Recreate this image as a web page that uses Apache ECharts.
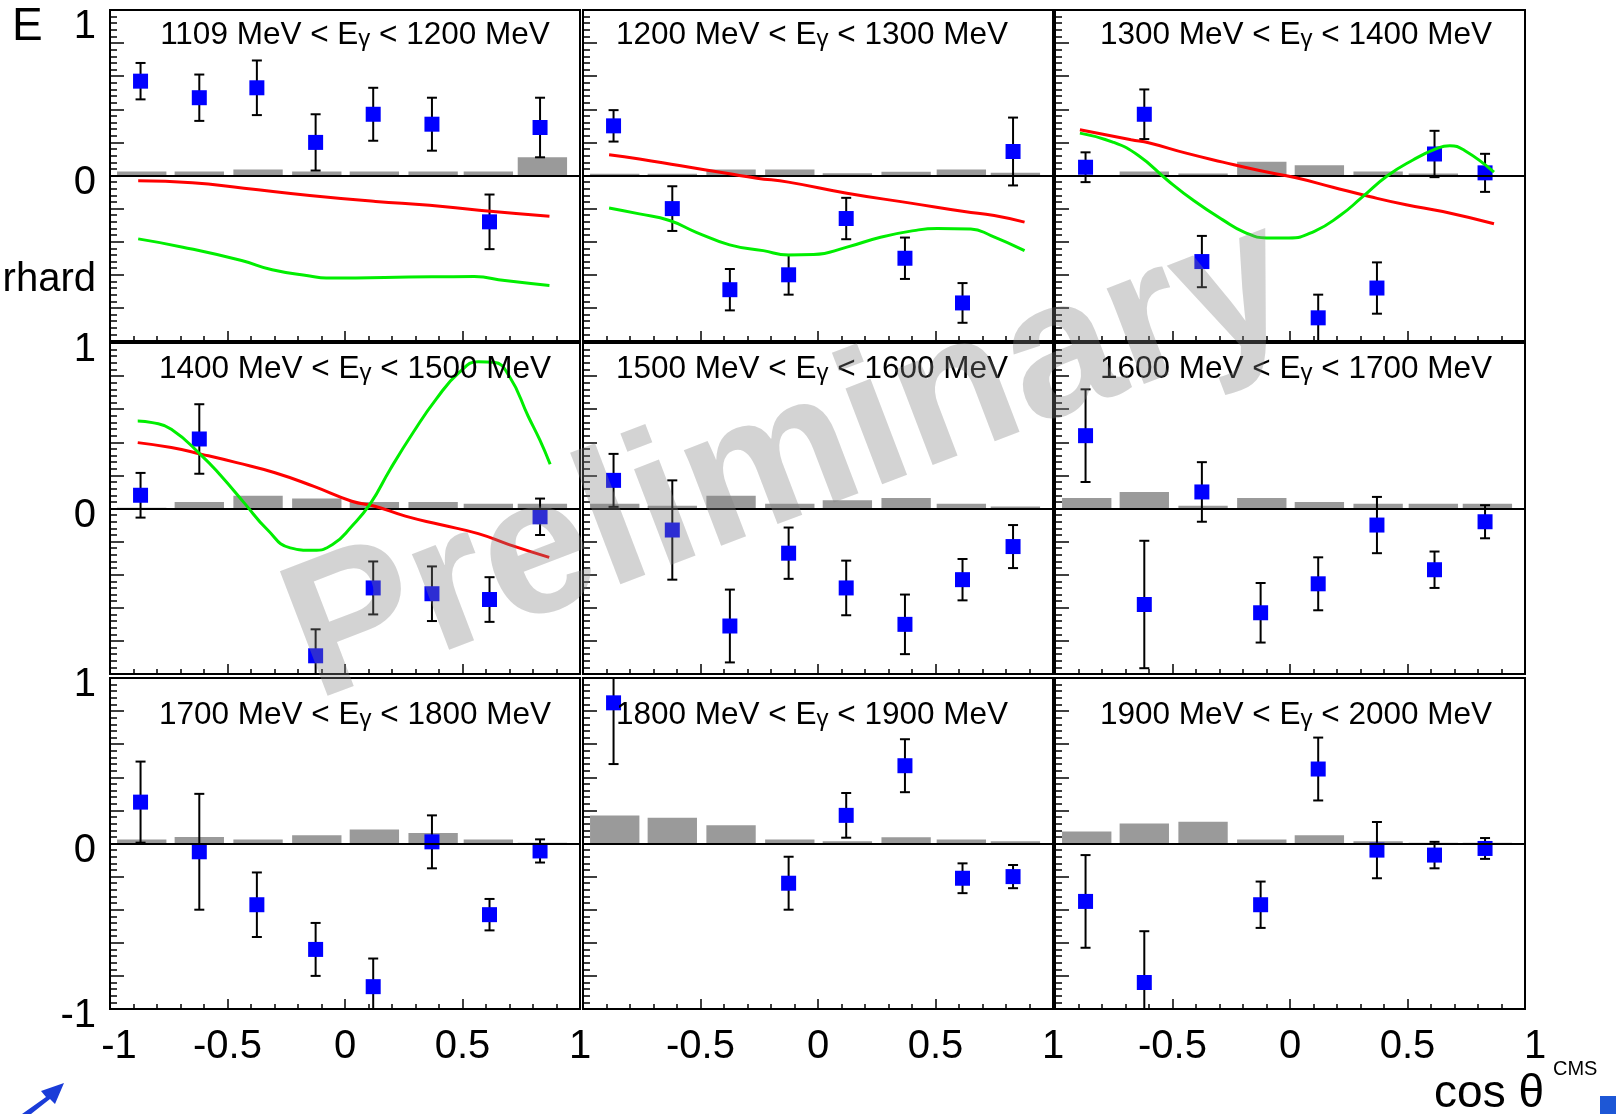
<!DOCTYPE html>
<html>
<head>
<meta charset="utf-8">
<title>E vs cos theta</title>
<script src="https://cdn.jsdelivr.net/npm/echarts@6/dist/echarts.min.js"></script>
<style>
  html, body { margin: 0; padding: 0; background: #fff; }
  #chart { width: 1616px; height: 1114px; }
</style>
</head>
<body>
<div id="chart"></div>
<script>
// cos(theta) positions of the data points and of the systematic bars
const cosTheta = [-0.87, -0.62, -0.375, -0.125, 0.12, 0.37, 0.615, 0.83];
const systCentres = [-0.865, -0.62, -0.37, -0.12, 0.125, 0.375, 0.61, 0.84];

// photon energy bins (MeV)
const lowE = [1109, 1200, 1300, 1400, 1500, 1600, 1700, 1800, 1900];
const highE = [1200, 1300, 1400, 1500, 1600, 1700, 1800, 1900, 2000];

// measured E and its error, null = no point
const E_1109 = [0.57, 0.47, 0.53, 0.20, 0.37, 0.31, -0.28, 0.29];
const dE_1109 = [0.11, 0.14, 0.165, 0.17, 0.16, 0.16, 0.165, 0.18];
const E_1200 = [0.30, -0.20, -0.69, -0.60, -0.26, -0.50, -0.77, 0.145];
const dE_1200 = [0.095, 0.135, 0.125, 0.12, 0.125, 0.125, 0.12, 0.205];
const E_1300 = [0.05, 0.37, -0.52, null, -0.86, -0.68, 0.13, 0.016];
const dE_1300 = [0.09, 0.15, 0.155, null, 0.14, 0.155, 0.14, 0.115];
const E_1400 = [0.08, 0.42, null, -0.89, -0.48, -0.515, -0.55, -0.05];
const dE_1400 = [0.135, 0.21, null, 0.16, 0.16, 0.165, 0.135, 0.11];
const E_1500 = [0.17, -0.13, -0.71, -0.27, -0.48, -0.70, -0.43, -0.23];
const dE_1500 = [0.16, 0.30, 0.22, 0.155, 0.165, 0.18, 0.125, 0.13];
const E_1600 = [0.44, -0.58, 0.10, -0.63, -0.455, -0.10, -0.37, -0.08];
const dE_1600 = [0.28, 0.385, 0.18, 0.18, 0.16, 0.17, 0.11, 0.10];
const E_1700 = [0.25, -0.05, -0.37, -0.64, -0.865, 0.01, -0.43, -0.045];
const dE_1700 = [0.245, 0.35, 0.195, 0.16, 0.17, 0.16, 0.095, 0.07];
const E_1800 = [0.85, null, null, -0.24, 0.17, 0.47, -0.21, -0.20];
const dE_1800 = [0.37, null, null, 0.16, 0.135, 0.16, 0.09, 0.07];
const E_1900 = [-0.35, -0.84, null, -0.37, 0.45, -0.04, -0.07, -0.03];
const dE_1900 = [0.28, 0.31, null, 0.14, 0.19, 0.17, 0.08, 0.063];

// systematic uncertainty (grey bars)
const syst_1109 = [0.024, 0.024, 0.036, 0.024, 0.024, 0.024, 0.024, 0.11];
const syst_1200 = [0.01, 0.01, 0.036, 0.036, 0.014, 0.022, 0.036, 0.016];
const syst_1300 = [0, 0.024, 0.012, 0.083, 0.062, 0.024, 0.012, 0];
const syst_1400 = [0.005, 0.04, 0.077, 0.06, 0.04, 0.04, 0.028, 0.028];
const syst_1500 = [0.028, 0.016, 0.077, 0.028, 0.05, 0.063, 0.028, 0.012];
const syst_1600 = [0.063, 0.099, 0.016, 0.063, 0.04, 0.028, 0.028, 0.028];
const syst_1700 = [0.024, 0.04, 0.024, 0.05, 0.085, 0.064, 0.024, 0.005];
const syst_1800 = [0.169, 0.155, 0.111, 0.024, 0.014, 0.038, 0.024, 0.014];
const syst_1900 = [0.072, 0.121, 0.131, 0.024, 0.05, 0.014, 0.004, 0.004];

// model curves (red / green), first four energy bins only
const red_1109_x = [-0.88, -0.65, -0.43, -0.15, 0.13, 0.36, 0.57, 0.87];
const red_1109_y = [-0.032, -0.044, -0.077, -0.121, -0.157, -0.18, -0.21, -0.246];
const green_1109_x = [-0.88, -0.69, -0.44, -0.31, -0.15, -0.08, 0.37, 0.55, 0.68, 0.87];
const green_1109_y = [-0.383, -0.433, -0.514, -0.57, -0.607, -0.619, -0.612, -0.611, -0.635, -0.665];

const red_1200_x = [-0.889, -0.76, -0.59, -0.376, -0.26, -0.126, 0.123, 0.394, 0.622, 0.75, 0.879];
const red_1200_y = [0.125, 0.1, 0.06, 0.01, -0.016, -0.04, -0.107, -0.167, -0.218, -0.242, -0.282];
const green_1200_x = [-0.889, -0.76, -0.632, -0.518, -0.376, -0.233, -0.126, -0.019, 0.123, 0.266, 0.408, 0.508, 0.65, 0.736, 0.879];
const green_1200_y = [-0.196, -0.232, -0.272, -0.343, -0.419, -0.454, -0.48, -0.478, -0.433, -0.373, -0.333, -0.32, -0.323, -0.363, -0.454];

const red_1300_x = [-0.894, -0.676, -0.598, -0.442, -0.286, -0.13, 0.026, 0.182, 0.338, 0.494, 0.65, 0.868];
const red_1300_y = [0.276, 0.216, 0.196, 0.135, 0.081, 0.03, -0.014, -0.071, -0.127, -0.177, -0.218, -0.292];
const green_1300_x = [-0.894, -0.754, -0.645, -0.52, -0.41, -0.286, -0.193, -0.099, -0.005, 0.104, 0.213, 0.307, 0.416, 0.525, 0.618, 0.68, 0.743, 0.868];
const green_1300_y = [0.256, 0.202, 0.121, -0.03, -0.151, -0.268, -0.343, -0.377, -0.377, -0.337, -0.242, -0.131, 0, 0.095, 0.159, 0.18, 0.151, 0.02];

const red_1400_x = [-0.882, -0.739, -0.608, -0.461, -0.298, -0.135, 0.029, 0.127, 0.257, 0.404, 0.567, 0.698, 0.869];
const red_1400_y = [0.398, 0.368, 0.327, 0.277, 0.216, 0.135, 0.044, 0.014, -0.046, -0.097, -0.152, -0.218, -0.295];
const green_1400_x = [-0.882, -0.82, -0.739, -0.608, -0.527, -0.429, -0.331, -0.233, -0.135, -0.053, 0.029, 0.11, 0.192, 0.29, 0.388, 0.486, 0.567, 0.633, 0.698, 0.78, 0.829, 0.873];
const green_1400_y = [0.529, 0.519, 0.479, 0.317, 0.196, 0.034, -0.127, -0.238, -0.253, -0.218, -0.107, 0.034, 0.236, 0.459, 0.661, 0.822, 0.887, 0.883, 0.802, 0.556, 0.414, 0.267];

const FONT = '"Liberation Sans", Arial, Helvetica, sans-serif';
const SYST_HALF = 0.105;   // half width of a grey bar, in cos theta
const CAP = 5;             // half width of the error bar caps, px

const gridLeft = [110, 583, 1055];
const gridTop = [10, 343, 678];
const gridW = 470, gridH = 331;
const titleX = [355, 812, 1296];
const titleY = [35, 369, 715];
const TITLE_SIZE = 31.5, SUB_SIZE = 24, SUB_DROP = 4.5;

const panels = [
  {e: E_1109, err: dE_1109, syst: syst_1109, red: [red_1109_x, red_1109_y], green: [green_1109_x, green_1109_y]},
  {e: E_1200, err: dE_1200, syst: syst_1200, red: [red_1200_x, red_1200_y], green: [green_1200_x, green_1200_y]},
  {e: E_1300, err: dE_1300, syst: syst_1300, red: [red_1300_x, red_1300_y], green: [green_1300_x, green_1300_y]},
  {e: E_1400, err: dE_1400, syst: syst_1400, red: [red_1400_x, red_1400_y], green: [green_1400_x, green_1400_y]},
  {e: E_1500, err: dE_1500, syst: syst_1500},
  {e: E_1600, err: dE_1600, syst: syst_1600},
  {e: E_1700, err: dE_1700, syst: syst_1700},
  {e: E_1800, err: dE_1800, syst: syst_1800},
  {e: E_1900, err: dE_1900, syst: syst_1900}
];

// text width helper for putting the gamma subscript in place
const measureCtx = document.createElement('canvas').getContext('2d');
function textWidth(str, size) {
  measureCtx.font = size + 'px ' + FONT;
  return measureCtx.measureText(str).width;
}

const chart = echarts.init(document.getElementById('chart'));

const grid = [], xAxis = [], yAxis = [], series = [], graphic = [];
const tickStyle = {color: '#000', width: 1.5};
const labelText = {fontSize: 40, fontFamily: FONT, color: '#000'};

panels.forEach((p, i) => {
  const row = Math.floor(i / 3), col = i % 3;

  grid.push({
    left: gridLeft[col], top: gridTop[row], width: gridW, height: gridH,
    show: true, borderColor: '#000', borderWidth: 2, backgroundColor: 'transparent'
  });

  xAxis.push({
    type: 'value', gridIndex: i, min: -1, max: 1, interval: 0.5, position: 'bottom',
    axisLine: {show: false, onZero: false},
    axisTick: {inside: true, length: 10, lineStyle: tickStyle},
    minorTick: {show: true, splitNumber: 5, length: 5, lineStyle: tickStyle},
    splitLine: {show: false},
    axisLabel: Object.assign({
      show: row === 2, margin: 18,
      showMinLabel: true, showMaxLabel: true,
      formatter: v => {
        if (v === -1) return col > 0 ? '' : '{lo|-1}';
        if (v === 1 && col === 2) return '{hi|1}';
        return String(v);
      },
      rich: {
        lo: Object.assign({padding: [0, 0, 0, 18]}, labelText),
        hi: Object.assign({padding: [0, 0, 0, 20]}, labelText)
      }
    }, labelText)
  });

  yAxis.push({
    type: 'value', gridIndex: i, min: -1, max: 1, interval: 0.2, position: 'left',
    axisLine: {show: false, onZero: false},
    axisTick: {inside: true, length: 14, lineStyle: tickStyle},
    minorTick: {show: true, splitNumber: 5, length: 7, lineStyle: tickStyle},
    splitLine: {show: false},
    axisLabel: Object.assign({
      show: col === 0, margin: 14,
      showMinLabel: true, showMaxLabel: true,
      formatter: v => {
        if (Math.abs(v - 1) < 1e-6) return row === 0 ? '{top|1}' : '{n|1}';
        if (Math.abs(v) < 1e-6) return '{n|0}';
        if (Math.abs(v + 1) < 1e-6 && row === 2) return '{n|-1}';
        return '';
      },
      rich: {
        n: Object.assign({padding: [14, 0, 0, 0]}, labelText),
        top: Object.assign({padding: [34, 0, 0, 0]}, labelText)
      }
    }, labelText)
  });

  // systematic bars + zero line
  series.push({
    type: 'custom', xAxisIndex: i, yAxisIndex: i, z: 1, clip: true, silent: true,
    data: systCentres.map((x, k) => [x, p.syst[k]]),
    renderItem: (params, api) => {
      const x = api.value(0), h = api.value(1);
      const a = api.coord([x - SYST_HALF, h]);
      const b = api.coord([x + SYST_HALF, 0]);
      return {
        type: 'rect',
        shape: {x: a[0], y: a[1], width: b[0] - a[0], height: b[1] - a[1]},
        style: {fill: '#9a9a9a'}
      };
    },
    markLine: {
      silent: true, symbol: 'none', animation: false,
      label: {show: false},
      lineStyle: {color: '#000', width: 2, type: 'solid'},
      data: [{yAxis: 0}]
    }
  });

  const pts = cosTheta.map((x, k) => [x, p.e[k], p.err[k]]).filter(d => d[1] !== null);

  // error bars
  series.push({
    type: 'custom', xAxisIndex: i, yAxisIndex: i, z: 3, clip: true, silent: true,
    data: pts,
    renderItem: (params, api) => {
      const x = api.value(0), y = api.value(1), e = api.value(2);
      const t = api.coord([x, y + e]), b = api.coord([x, y - e]);
      const st = {stroke: '#000', lineWidth: 2};
      return {
        type: 'group', children: [
          {type: 'line', shape: {x1: t[0], y1: t[1], x2: b[0], y2: b[1]}, style: st},
          {type: 'line', shape: {x1: t[0] - CAP, y1: t[1], x2: t[0] + CAP, y2: t[1]}, style: st},
          {type: 'line', shape: {x1: b[0] - CAP, y1: b[1], x2: b[0] + CAP, y2: b[1]}, style: st}
        ]
      };
    }
  });

  series.push({
    type: 'scatter', xAxisIndex: i, yAxisIndex: i, z: 4, silent: true,
    symbol: 'rect', symbolSize: 15,
    itemStyle: {color: '#0000ff', opacity: 1},
    data: pts.map(d => [d[0], d[1]])
  });

  if (p.red) {
    series.push({
      type: 'line', xAxisIndex: i, yAxisIndex: i, z: 5, silent: true,
      showSymbol: false, smooth: true,
      lineStyle: {color: '#ff0000', width: 3},
      data: p.red[0].map((x, k) => [x, p.red[1][k]])
    });
    series.push({
      type: 'line', xAxisIndex: i, yAxisIndex: i, z: 5, silent: true,
      showSymbol: false, smooth: true,
      lineStyle: {color: '#00ee00', width: 3},
      data: p.green[0].map((x, k) => [x, p.green[1][k]])
    });
  }

  // panel title: "lo MeV < E_gamma < hi MeV", written in three pieces
  const pre = lowE[i] + ' MeV < E';
  const post = ' < ' + highE[i] + ' MeV';
  const w1 = textWidth(pre, TITLE_SIZE), wg = textWidth('γ', SUB_SIZE), w2 = textWidth(post, TITLE_SIZE);
  const x0 = titleX[col] - (w1 + wg + w2) / 2;
  const baseStyle = {fontSize: TITLE_SIZE, fontFamily: FONT, fill: '#000', align: 'left', verticalAlign: 'middle'};
  graphic.push(
    {type: 'text', x: x0, y: titleY[row], z: 50, style: Object.assign({text: pre}, baseStyle)},
    {type: 'text', x: x0 + w1, y: titleY[row] + SUB_DROP, z: 50, style: Object.assign({}, baseStyle, {text: 'γ', fontSize: SUB_SIZE})},
    {type: 'text', x: x0 + w1 + wg, y: titleY[row], z: 50, style: Object.assign({text: post}, baseStyle)}
  );
});

// outer labels
graphic.push(
  {type: 'text', x: 12, y: 27, style: {text: 'E', fontSize: 46, fontFamily: FONT, fill: '#000', align: 'left', verticalAlign: 'middle'}},
  {type: 'text', x: 96, y: 280, style: {text: 'rhard', fontSize: 40, fontFamily: FONT, fill: '#000', align: 'right', verticalAlign: 'middle'}},
  {type: 'text', x: 1544, y: 1094, style: {text: 'cos θ', fontSize: 46, fontFamily: FONT, fill: '#000', align: 'right', verticalAlign: 'middle'}},
  {type: 'text', x: 1553, y: 1069, style: {text: 'CMS', fontSize: 20, fontFamily: FONT, fill: '#000', align: 'left', verticalAlign: 'middle'}},
  {type: 'rect', shape: {x: 1600, y: 1096, width: 16, height: 18}, style: {fill: '#1d57d6'}},
  {type: 'polygon', shape: {points: [[22, 1114], [46, 1097], [41, 1091], [64, 1083], [55, 1104], [50, 1099], [31, 1114]]}, style: {fill: '#1a3cd8'}},
  {
    type: 'text', x: 790, y: 462, rotation: 0.365, z: 100, silent: true,
    style: {text: 'Preliminary', fontSize: 194, fontWeight: 'bold', fontFamily: FONT, fill: 'rgba(128,128,128,0.35)', align: 'center', verticalAlign: 'middle'}
  }
);

chart.setOption({
  animation: false,
  backgroundColor: '#fff',
  grid: grid,
  xAxis: xAxis,
  yAxis: yAxis,
  series: series,
  graphic: graphic
});
</script>
</body>
</html>
